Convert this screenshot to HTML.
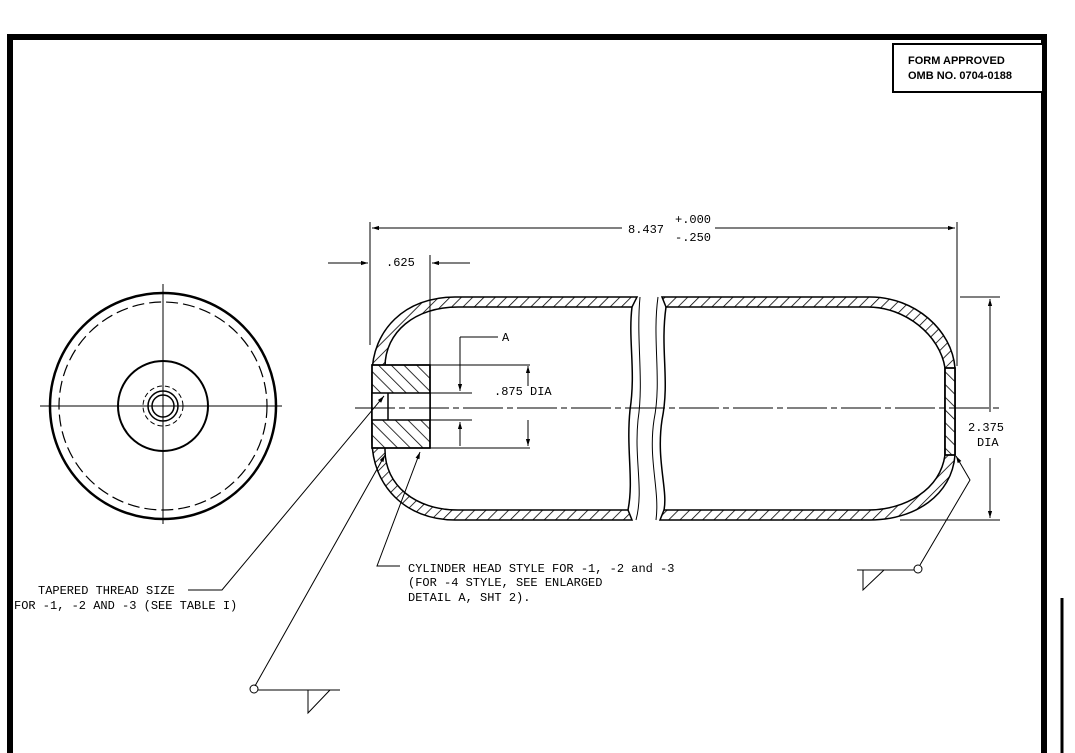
<!DOCTYPE html>
<html><head><meta charset="utf-8"><style>
html,body{margin:0;padding:0;background:#fff;}
svg{display:block}
text{font-family:"Liberation Mono",monospace;font-size:12px;fill:#000;}
.s{font-family:"Liberation Sans",sans-serif;font-weight:bold;font-size:11px}
</style></head><body>
<svg width="1075" height="753" viewBox="0 0 1075 753" xmlns="http://www.w3.org/2000/svg">
<defs>
<pattern id="h" width="8" height="8" patternUnits="userSpaceOnUse" patternTransform="rotate(45)">
<line x1="0" y1="0" x2="0" y2="8" stroke="#000" stroke-width="1.6"/></pattern>
<pattern id="h2" width="9" height="9" patternUnits="userSpaceOnUse" patternTransform="rotate(-45)">
<line x1="0" y1="0" x2="0" y2="9" stroke="#000" stroke-width="1.6"/></pattern>
<marker id="a" viewBox="0 0 10 10" refX="10" refY="5" markerWidth="9" markerHeight="7" orient="auto-start-reverse"><path d="M0,2 L10,5 L0,8z" fill="#000"/></marker>
</defs>
<rect width="1075" height="753" fill="#fff"/>
<path d="M10,753 V37 H1044 V753" fill="none" stroke="#000" stroke-width="6"/>
<rect x="893" y="44" width="150" height="48" fill="#fff" stroke="#000" stroke-width="2"/>
<text class="s" x="908" y="64">FORM APPROVED</text>
<text class="s" x="908" y="79">OMB NO. 0704-0188</text>
<line x1="1062" y1="598" x2="1062" y2="753" stroke="#000" stroke-width="3"/>

<g fill="none" stroke="#000">
<circle cx="163" cy="406" r="113" stroke-width="2.5"/>
<circle cx="163" cy="406" r="104" stroke-width="1.2" stroke-dasharray="12,5"/>
<circle cx="163" cy="406" r="45" stroke-width="2"/>
<circle cx="163" cy="406" r="20" stroke-width="1" stroke-dasharray="5,3"/>
<circle cx="163" cy="406" r="15" stroke-width="1.5"/>
<circle cx="163" cy="406" r="11" stroke-width="1.5"/>
<line x1="40" y1="406" x2="282" y2="406" stroke-width="1"/>
<line x1="163" y1="284" x2="163" y2="524" stroke-width="1"/>
</g>

<g stroke="#000" stroke-width="1.5">
<path d="M637,297 L455,297 C405,297 372,330 372,375 L372,440 C372,485 405,520 455,520 L632,520 L628,510 L458,510 C415,510 385,485 385,450 L385,367 C385,332 415,307 458,307 L632,307 Z" fill="url(#h)" fill-rule="evenodd"/>
<path d="M372,365 L430,365 L430,448 L372,448 Z" fill="#fff"/>
<path d="M372,365 L430,365 L430,448 L372,448 Z" fill="url(#h2)"/>
<path d="M372,393 L430,393 L430,420 L372,420 Z" fill="#fff"/>
<path d="M388,393 L388,420" fill="none"/>
<path d="M632,307 C628,340 636,370 630,410 C626,450 634,480 628,510" fill="none"/>
<path d="M640,297 C636,340 644,380 638,420 C634,460 644,490 636,520" fill="none" stroke-width="1"/>
<path d="M662,297 L870,297 C915,297 952,330 955,368 L955,455 C952,495 915,520 870,520 L660,520 L664,510 L868,510 C905,510 940,490 945,455 L945,368 C940,335 905,307 868,307 L666,307 Z" fill="url(#h)" fill-rule="evenodd"/>
<rect x="945" y="368" width="10" height="87" fill="#fff"/>
<rect x="945" y="368" width="10" height="87" fill="url(#h2)"/>
<path d="M666,307 C660,350 670,380 662,420 C656,460 668,490 664,510" fill="none"/>
<path d="M658,297 C652,340 662,380 654,420 C648,460 660,490 656,520" fill="none" stroke-width="1"/>
</g>
<line x1="355" y1="408" x2="1000" y2="408" stroke="#000" stroke-width="1" stroke-dasharray="40,4,6,4"/>

<g stroke="#000" stroke-width="1" fill="none">
<line x1="370" y1="222" x2="370" y2="345"/>
<line x1="957" y1="222" x2="957" y2="366"/>
<line x1="372" y1="228" x2="622" y2="228" marker-start="url(#a)"/>
<line x1="715" y1="228" x2="955" y2="228" marker-end="url(#a)"/>
<line x1="328" y1="263" x2="368" y2="263" marker-end="url(#a)"/>
<line x1="470" y1="263" x2="432" y2="263" marker-end="url(#a)"/>
<line x1="430" y1="255" x2="430" y2="365"/>
<line x1="460" y1="337" x2="498" y2="337"/>
<line x1="460" y1="337" x2="460" y2="391" marker-end="url(#a)"/>
<line x1="430" y1="365" x2="530" y2="365"/>
<line x1="430" y1="393" x2="472" y2="393"/>
<line x1="430" y1="420" x2="472" y2="420"/>
<line x1="430" y1="448" x2="530" y2="448"/>
<line x1="528" y1="366" x2="528" y2="386" marker-start="url(#a)"/>
<line x1="460" y1="446" x2="460" y2="422" marker-end="url(#a)"/>
<line x1="528" y1="420" x2="528" y2="446" marker-end="url(#a)"/>
<line x1="960" y1="297" x2="1000" y2="297"/>
<line x1="900" y1="520" x2="1000" y2="520"/>
<line x1="990" y1="299" x2="990" y2="412" marker-start="url(#a)"/>
<line x1="990" y1="458" x2="990" y2="518" marker-end="url(#a)"/>
<polyline points="188,590 222,590 384,396" marker-end="url(#a)"/>
<line x1="255" y1="686" x2="385" y2="455" marker-end="url(#a)"/>
<circle cx="254" cy="689" r="4"/>
<line x1="258" y1="690" x2="340" y2="690"/>
<polyline points="308,690 308,713 330,690"/>
<polyline points="400,566 377,566 420,452" marker-end="url(#a)"/>
<circle cx="918" cy="569" r="4"/>
<line x1="914" y1="570" x2="857" y2="570"/>
<polyline points="863,570 863,590 884,570"/>
<polyline points="920,565 970,480 956,456" marker-end="url(#a)"/>
</g>
<text x="628" y="233">8.437</text>
<text x="675" y="223">+.000</text>
<text x="675" y="241">-.250</text>
<text x="386" y="266">.625</text>
<text x="502" y="341">A</text>
<text x="494" y="395">.875 DIA</text>
<text x="968" y="431">2.375</text>
<text x="977" y="446">DIA</text>
<text x="38" y="594">TAPERED THREAD SIZE</text>
<text x="14" y="609">FOR -1, -2 AND -3 (SEE TABLE I)</text>
<text x="408" y="572">CYLINDER HEAD STYLE FOR -1, -2 and -3</text>
<text x="408" y="586">(FOR -4 STYLE, SEE ENLARGED</text>
<text x="408" y="601">DETAIL A, SHT 2).</text>
</svg>
</body></html>
